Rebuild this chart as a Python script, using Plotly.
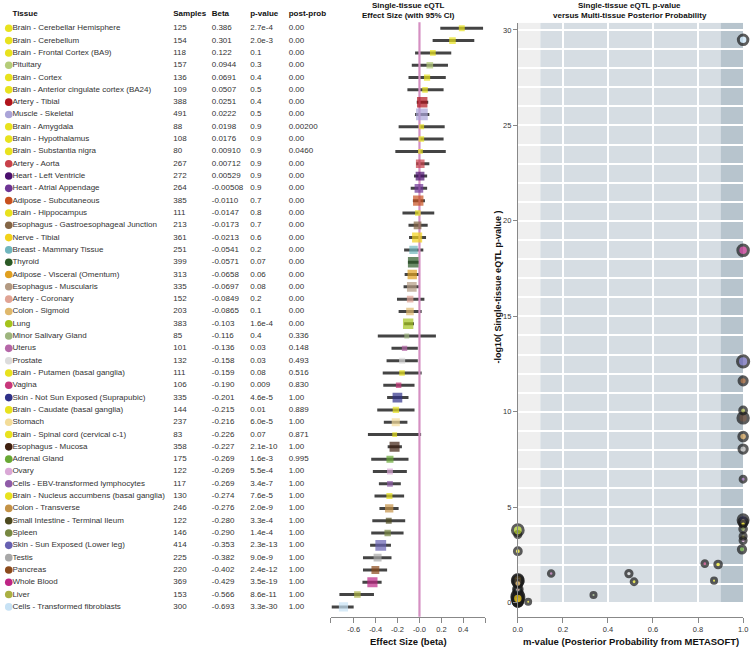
import math
import plotly.graph_objects as go

# ---- data ----
tissues = [
    "Brain - Cerebellar Hemisphere", "Brain - Cerebellum", "Brain - Frontal Cortex (BA9)",
    "Pituitary", "Brain - Cortex", "Brain - Anterior cingulate cortex (BA24)",
    "Artery - Tibial", "Muscle - Skeletal", "Brain - Amygdala", "Brain - Hypothalamus",
    "Brain - Substantia nigra", "Artery - Aorta", "Heart - Left Ventricle",
    "Heart - Atrial Appendage", "Adipose - Subcutaneous", "Brain - Hippocampus",
    "Esophagus - Gastroesophageal Junction", "Nerve - Tibial", "Breast - Mammary Tissue",
    "Thyroid", "Adipose - Visceral (Omentum)", "Esophagus - Muscularis", "Artery - Coronary",
    "Colon - Sigmoid", "Lung", "Minor Salivary Gland", "Uterus", "Prostate",
    "Brain - Putamen (basal ganglia)", "Vagina", "Skin - Not Sun Exposed (Suprapubic)",
    "Brain - Caudate (basal ganglia)", "Stomach", "Brain - Spinal cord (cervical c-1)",
    "Esophagus - Mucosa", "Adrenal Gland", "Ovary", "Cells - EBV-transformed lymphocytes",
    "Brain - Nucleus accumbens (basal ganglia)", "Colon - Transverse",
    "Small Intestine - Terminal Ileum", "Spleen", "Skin - Sun Exposed (Lower leg)", "Testis",
    "Pancreas", "Whole Blood", "Liver", "Cells - Transformed fibroblasts",
]
samples = [125, 154, 118, 157, 136, 109, 388, 491, 88, 108, 80, 267, 272, 264, 385, 111,
           213, 361, 251, 399, 313, 335, 152, 203, 383, 85, 101, 132, 111, 106, 335, 144,
           237, 83, 358, 175, 122, 117, 130, 246, 122, 146, 414, 225, 220, 369, 153, 300]
betas = ["0.386", "0.301", "0.122", "0.0944", "0.0691", "0.0507", "0.0251", "0.0222",
         "0.0198", "0.0176", "0.00910", "0.00712", "0.00529", "-0.00508", "-0.0110",
         "-0.0147", "-0.0173", "-0.0213", "-0.0541", "-0.0571", "-0.0658", "-0.0697",
         "-0.0849", "-0.0865", "-0.103", "-0.116", "-0.136", "-0.158", "-0.159", "-0.190",
         "-0.201", "-0.215", "-0.216", "-0.226", "-0.227", "-0.269", "-0.269", "-0.269",
         "-0.274", "-0.276", "-0.280", "-0.290", "-0.353", "-0.382", "-0.402", "-0.429",
         "-0.566", "-0.693"]
pvalues = ["2.7e-4", "2.0e-3", "0.1", "0.3", "0.4", "0.5", "0.4", "0.5", "0.9", "0.9",
           "0.9", "0.9", "0.9", "0.9", "0.7", "0.8", "0.7", "0.6", "0.2", "0.07", "0.06",
           "0.08", "0.2", "0.1", "1.6e-4", "0.4", "0.03", "0.03", "0.08", "0.009", "4.6e-5",
           "0.01", "6.0e-5", "0.07", "2.1e-10", "1.6e-3", "5.5e-4", "3.4e-7", "7.6e-5",
           "2.0e-9", "3.3e-4", "1.4e-4", "2.3e-13", "9.0e-9", "2.4e-12", "3.5e-19",
           "8.6e-11", "3.3e-30"]
post_probs = ["0.00", "0.00", "0.00", "0.00", "0.00", "0.00", "0.00", "0.00", "0.00200",
              "0.00", "0.0460", "0.00", "0.00", "0.00", "0.00", "0.00", "0.00", "0.00",
              "0.00", "0.00", "0.00", "0.00", "0.00", "0.00", "0.00", "0.336", "0.148",
              "0.493", "0.516", "0.830", "1.00", "0.889", "1.00", "0.871", "1.00", "0.995",
              "1.00", "1.00", "1.00", "1.00", "1.00", "1.00", "1.00", "1.00", "1.00", "1.00",
              "1.00", "1.00"]
# 95% CI ends, estimated from the whiskers
ci_low = [0.19, 0.12, -0.04, -0.07, -0.10, -0.11, -0.025, -0.04, -0.19, -0.18, -0.22, -0.03,
          -0.05, -0.08, -0.06, -0.155, -0.10, -0.095, -0.14, -0.105, -0.135, -0.145, -0.205,
          -0.19, -0.14, -0.38, -0.255, -0.30, -0.335, -0.33, -0.295, -0.385, -0.325, -0.47,
          -0.29, -0.44, -0.425, -0.37, -0.41, -0.365, -0.43, -0.44, -0.45, -0.515, -0.515,
          -0.52, -0.73, -0.80]
ci_high = [0.58, 0.50, 0.29, 0.26, 0.24, 0.22, 0.08, 0.09, 0.23, 0.22, 0.24, 0.09, 0.07, 0.07,
           0.05, 0.135, 0.075, 0.06, 0.035, 0.0, 0.005, 0.005, 0.045, 0.02, -0.05, 0.15,
           -0.015, -0.015, 0.02, -0.045, -0.10, -0.045, -0.11, 0.015, -0.16, -0.10, -0.115,
           -0.17, -0.14, -0.19, -0.13, -0.145, -0.26, -0.255, -0.295, -0.345, -0.415, -0.60]
colors = [
    "#e8e21e", "#e8e21e", "#e8e21e", "#b4cc78", "#e8e21e", "#e8e21e", "#b0141c", "#aaa4d8",
    "#e8e21e", "#e8e21e", "#e8e21e", "#c8414a", "#4a0f6e", "#6e3595", "#c8501e", "#e8e21e",
    "#846646", "#f2d21a", "#70b6be", "#2b5a26", "#e0a020", "#b39a82", "#e0a394", "#dfb86c",
    "#a4c31c", "#9db57e", "#b567a8", "#dcdcdc", "#e8e21e", "#c8377b", "#2f3189", "#e8e21e",
    "#f3dc98", "#e8e21e", "#3f200f", "#68a834", "#daa8d6", "#8f5ba8", "#e8e21e", "#c49246",
    "#4d4a1f", "#778841", "#6761b2", "#a8a8a8", "#8b4a1b", "#be2585", "#aab043", "#c7e2f5",
]
headers = ["Tissue", "Samples", "Beta", "p-value", "post-prob"]
m_bands = [0.0, 0.1, 0.9, 1.0]
band_colors = ["#efefef", "#d6dde3", "#b7c4cd"]

rows = list(range(len(tissues)))
beta_vals = [float(b) for b in betas]
neglog_p = [-math.log10(float(p)) for p in pvalues]
m_vals = [float(m) for m in post_probs]

FONT = "Liberation Sans, Arial, sans-serif"
W, H = 756, 648
TXT = "#333333"

fig = go.Figure()

# ---- table (x axis in pixel-like units) ----
col_x = [7.5, 170.5, 209.5, 248.5, 287.5]
columns = [tissues, [str(s) for s in samples], betas, pvalues, post_probs]

fig.add_trace(go.Scatter(
    x=[3.8] * len(rows), y=rows, mode="markers", cliponaxis=False,
    marker=dict(color=colors, size=7.6, line=dict(width=0)),
    xaxis="x", yaxis="y", hoverinfo="skip"))

for cx, col in zip(col_x, columns):
    fig.add_trace(go.Scatter(
        x=[cx] * len(rows), y=rows, mode="text", text=col, cliponaxis=False,
        textposition="middle right", textfont=dict(family=FONT, size=8, color=TXT),
        xaxis="x", yaxis="y", hoverinfo="skip"))

fig.add_trace(go.Scatter(
    x=col_x, y=[-1.15] * len(headers), mode="text", cliponaxis=False,
    text=["<b>%s</b>" % h for h in headers],
    textposition="middle right", textfont=dict(family=FONT, size=8, color="#111111"),
    xaxis="x", yaxis="y", hoverinfo="skip"))

# ---- forest plot ----
wx, wy = [], []
for lo, hi, r in zip(ci_low, ci_high, rows):
    wx += [lo, hi, None]
    wy += [r, r, None]
fig.add_trace(go.Scatter(
    x=wx, y=wy, mode="lines", line=dict(color="#444444", width=3),
    xaxis="x2", yaxis="y", hoverinfo="skip"))

fig.add_trace(go.Scatter(
    x=[0, 0], y=[-0.5, len(rows) - 0.2], mode="lines",
    line=dict(color="#d58fc2", width=2.2), xaxis="x2", yaxis="y", hoverinfo="skip"))

fig.add_trace(go.Scatter(
    x=beta_vals, y=rows, mode="markers",
    marker=dict(symbol="square", color=colors,
                size=[0.53 * math.sqrt(n) for n in samples], line=dict(width=0)),
    xaxis="x2", yaxis="y", hoverinfo="skip"))

# ---- m-value vs p-value scatter ----
for (a, b), c in zip(zip(m_bands[:-1], m_bands[1:]), band_colors):
    fig.add_shape(type="rect", xref="x3", yref="y3", x0=a, x1=b, y0=0, y1=30.38,
                  fillcolor=c, line=dict(width=0), layer="below")

fig.add_trace(go.Scatter(
    x=m_vals, y=neglog_p, mode="markers", cliponaxis=False,
    marker=dict(color=colors, size=[0.55 * math.sqrt(n) for n in samples],
                line=dict(color="#1a1a1a", width=3)),
    xaxis="x3", yaxis="y3", hoverinfo="skip"))

tick_font = dict(family=FONT, size=7.5, color=TXT)
fig.update_layout(
    width=W, height=H, margin=dict(l=0, r=0, t=0, b=0),
    paper_bgcolor="white", plot_bgcolor="white", showlegend=False,
    font=dict(family=FONT, color=TXT),
    xaxis=dict(domain=[0, 330 / W], range=[0, 330], visible=False),
    yaxis=dict(domain=[0, 1], range=[50.34, -2.3], visible=False),
    xaxis2=dict(domain=[330 / W, 486.7 / W], range=[-0.81, 0.6], anchor="free",
                position=31 / H, showline=True, linecolor="#888888", linewidth=1,
                ticks="outside", ticklen=5, tickcolor="#888888",
                tickvals=[-0.81, -0.6, -0.4, -0.2, 0, 0.2, 0.4, 0.6],
                ticktext=["", "-0.6", "-0.4", "-0.2", "-0.0", "0.2", "0.4", ""],
                tickfont=tick_font, showgrid=False, zeroline=False),
    xaxis3=dict(domain=[519.7 / W, 748 / W], range=[0, 1], anchor="y3",
                showline=True, linecolor="#888888", ticks="outside", ticklen=5,
                tickcolor="#888888", tickvals=[0, 0.2, 0.4, 0.6, 0.8, 1.0],
                ticktext=["0.0", "0.2", "0.4", "0.6", "0.8", "1.0"], tickfont=tick_font,
                showgrid=True, gridcolor="white", gridwidth=2, zeroline=False),
    yaxis3=dict(domain=[31 / H, 1 - 22.7 / H], range=[-0.75, 30.38], anchor="x3",
                showline=True, linecolor="#888888", ticks="outside", ticklen=4,
                tickcolor="#888888", tickvals=[0, 5, 10, 15, 20, 25, 30],
                tickfont=tick_font, showgrid=True, gridcolor="white", gridwidth=1.5,
                minor=dict(dtick=1, showgrid=True, gridcolor="white", gridwidth=1.5),
                zeroline=False),
)


def label(text, x, y, size=8, angle=0):
    fig.add_annotation(text="<b>%s</b>" % text, x=x / W, y=1 - y / H, xref="paper",
                       yref="paper", xanchor="center", yanchor="middle",
                       showarrow=False, textangle=angle,
                       font=dict(family=FONT, size=size, color="#111111"))


label("Single-tissue eQTL", 409, 5)
label("Effect Size (with 95% CI)", 409, 15.5)
label("Effect Size (beta)", 409, 641.5, size=9.5)
label("Single-tissue eQTL p-value", 633, 5)
label("versus Multi-tissue Posterior Probability", 633, 15.5)
label("m-value (Posterior Probability from METASOFT)", 634, 641.5, size=9.5)
label("-log10( Single-tissue eQTL p-value )", 499.5, 286.5, size=9, angle=-90)

# the page's default 8px body margin would shift the whole chart
fig.write_html("out.html", config={"displayModeBar": False},
               post_script="document.body.style.margin = '0';")
